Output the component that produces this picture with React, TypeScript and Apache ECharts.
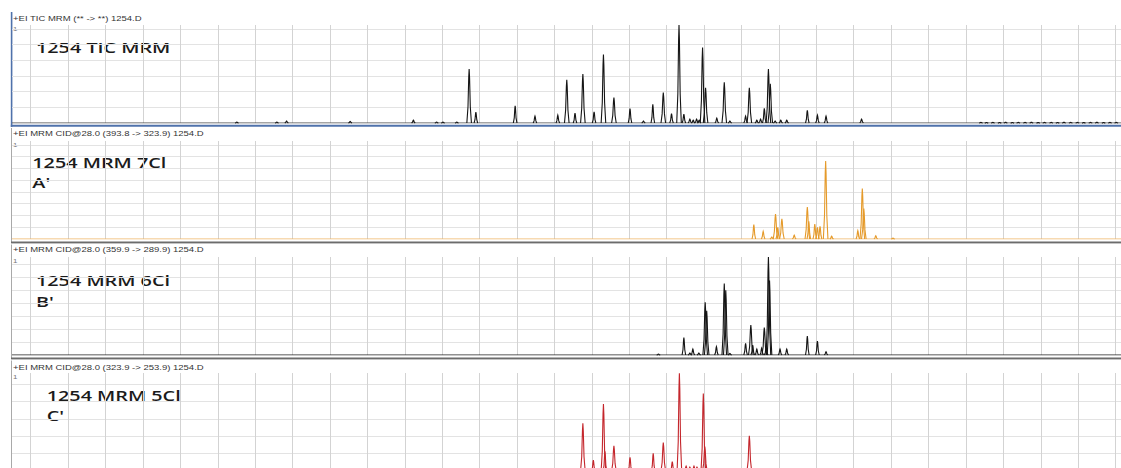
import React, { useEffect, useRef } from "react";
import * as echarts from "echarts";

// Retention-time axis (minutes) shared by every trace
const X_MIN = 4.5;
const X_MAX = 34.145;
const GRID_TIMES = [5, 6, 7, 8, 9, 10, 11, 12, 13, 14, 15, 16, 17, 18, 19, 20, 21, 22, 23, 24, 25, 26, 27, 28, 29, 30, 31, 32, 33, 34];

// Peaks as [retention time, relative abundance %]
const TIC_PEAKS = [
  [10.51, 1], [11.58, 1], [11.84, 2], [13.54, 1.5], [15.23, 3], [15.85, 1], [16.02, 1], [16.39, 1],
  [16.72, 55], [16.9, 11], [17.95, 17.5], [18.48, 7], [19.09, 8], [19.33, 44], [19.55, 10], [19.76, 50],
  [20.06, 11.5], [20.31, 70], [20.59, 26], [21.02, 14.6], [21.38, 2], [21.63, 19], [21.91, 31], [22.13, 9.5],
  [22.33, 100], [22.46, 9], [22.62, 4], [22.71, 3], [22.8, 4], [22.87, 3], [22.96, 77], [23.04, 36],
  [23.34, 5], [23.54, 41.5], [23.69, 2], [24.11, 7], [24.21, 36], [24.41, 3], [24.51, 4], [24.61, 15],
  [24.72, 55], [24.77, 40], [24.9, 2], [25.05, 3], [25.21, 3], [25.76, 13], [26.03, 8], [26.26, 7], [27.21, 4],
  [30.4, 0.7], [30.55, 0.5], [30.72, 0.7], [30.9, 0.5], [31.06, 0.8], [31.24, 0.5], [31.4, 0.7], [31.58, 0.6],
  [31.75, 0.8], [31.93, 0.5], [32.1, 0.7], [32.28, 0.6], [32.45, 0.5], [32.62, 0.8], [32.8, 0.6], [32.98, 0.7],
  [33.15, 0.5], [33.33, 0.6], [33.5, 0.8], [33.68, 0.5], [33.85, 0.7], [34.02, 0.6],
];

const MRM7_PEAKS = [
  [24.33, 14.6], [24.58, 7.8], [24.81, 2], [24.91, 25.5], [24.97, 12], [25.08, 20.7], [25.41, 4],
  [25.76, 32.6], [25.8, 18], [25.96, 15.3], [26.03, 12], [26.1, 13], [26.25, 79.6], [26.41, 3],
  [27.11, 8.5], [27.23, 51.6], [27.27, 31], [27.59, 3.3], [28.05, 1],
];

const MRM6_PEAKS = [
  [21.78, 1], [22.46, 17.7], [22.62, 2], [22.7, 6], [22.86, 2], [23.03, 53.8], [23.07, 45], [23.33, 8.5],
  [23.54, 73], [23.58, 66], [23.69, 1.5], [24.11, 12], [24.25, 30.6], [24.3, 10], [24.41, 6], [24.54, 7],
  [24.61, 28], [24.66, 8], [24.72, 100], [24.75, 76], [25.03, 6], [25.21, 6], [25.76, 19.4], [26.03, 14.3],
  [26.26, 3.4],
];

const MRM5_PEAKS = [
  [19.76, 48.7], [20.04, 11], [20.31, 68.4], [20.35, 20], [20.59, 25.8], [21.02, 14], [21.64, 18],
  [21.91, 29], [22.15, 9.5], [22.34, 99.7], [22.52, 5], [22.62, 4], [22.73, 5], [22.81, 4],
  [22.98, 79], [23.02, 25], [24.21, 36],
];

const PANEL_TITLES = [
  "+EI TIC MRM (** -> **) 1254.D",
  "+EI MRM CID@28.0 (393.8 -> 323.9) 1254.D",
  "+EI MRM CID@28.0 (359.9 -> 289.9) 1254.D",
  "+EI MRM CID@28.0 (323.9 -> 253.9) 1254.D",
];
const PANEL_LABELS = [["1254 TIC MRM"], ["1254 MRM 7Cl", "A'"], ["1254 MRM 6Cl", "B'"], ["1254 MRM 5Cl", "C'"]];
const Y_TICK_LABEL = "1";

const PANEL_PEAKS = [TIC_PEAKS, MRM7_PEAKS, MRM6_PEAKS, MRM5_PEAKS];
const TRACE_COLORS = ["#151515", "#e59a2a", "#151515", "#c4262c"];
const BASELINE_COLORS = ["#4a4a4a", "#eeb565", "#222222", "#c4262c"];
const Y_INTERVALS = [16, 12, 13.3, 17.7];

// layout
const PLOT_TOPS = [25, 141, 257, 373];
const PLOT_H = 98;
const PLOT_LEFT = 12;
const TITLE_Y = [18.2, 133.6, 249.8, 367.6];
const ONE_Y = [28.5, 145, 260.7, 376.7];
const LABEL_X = [36, 32.3, 36, 46.7];
const LABEL_Y = [47, 162, 280.3, 395.5];
const SUBLABEL_Y = [0, 182, 301, 415];
const STRETCH = 1.32;

function peakRenderer(color: string) {
  return (_params: any, api: any) => {
    const rt = api.value(0);
    const h = api.value(1);
    const apex = api.coord([rt, h]);
    const foot = api.coord([rt, 0]);
    const x = apex[0];
    const top = apex[1];
    const b = foot[1];
    const H = b - top;
    const hw = H > 20 ? 2.3 : 1.8;
    return {
      type: "polyline",
      shape: {
        points: [
          [x - hw, b],
          [x - hw * 0.5, b - H * 0.3],
          [x - hw * 0.18, b - H * 0.85],
          [x, top],
          [x + hw * 0.18, b - H * 0.85],
          [x + hw * 0.5, b - H * 0.3],
          [x + hw, b],
        ],
      },
      style: { stroke: color, lineWidth: 1.1, fill: null },
    };
  };
}

export default function App() {
  const ref = useRef<HTMLDivElement>(null);

  useEffect(() => {
    if (!ref.current) return;
    const chart = echarts.init(ref.current, undefined, { renderer: "svg" });

    const grids = PLOT_TOPS.map((top) => ({
      left: PLOT_LEFT,
      right: 0,
      top,
      height: PLOT_H,
      containLabel: false,
      outerBoundsMode: "none",
    }));

    const xAxes = PLOT_TOPS.map((_, i) => ({
      type: "value",
      gridIndex: i,
      min: X_MIN,
      max: X_MAX,
      axisLine: { show: false },
      axisTick: { show: false },
      axisLabel: { show: false },
      splitLine: { show: false },
    }));

    const yAxes = PLOT_TOPS.map((_, i) => ({
      type: "value",
      gridIndex: i,
      min: 0,
      max: 100,
      interval: Y_INTERVALS[i],
      axisLine: { show: false },
      axisTick: { show: false },
      axisLabel: { show: false },
      splitLine: {
        show: true,
        showMinLine: false,
        showMaxLine: false,
        lineStyle: { color: "#e3e3e3", width: 1 },
      },
    }));

    const series: any[] = [];
    PANEL_PEAKS.forEach((peaks, i) => {
      series.push({
        type: "line",
        xAxisIndex: i,
        yAxisIndex: i,
        data: [[X_MIN, 0], [X_MAX, 0]],
        symbol: "none",
        silent: true,
        z: 2,
        lineStyle: { color: BASELINE_COLORS[i], width: 1 },
        markLine: {
          silent: true,
          z: 1,
          symbol: ["none", "none"],
          label: { show: false },
          emphasis: { disabled: true },
          lineStyle: { color: "#d3d3d3", width: 1, type: "solid" },
          data: GRID_TIMES.map((t) => ({ xAxis: t })),
        },
      });
      series.push({
        type: "custom",
        xAxisIndex: i,
        yAxisIndex: i,
        data: peaks,
        encode: { x: 0, y: 1 },
        clip: false,
        silent: true,
        z: 4,
        renderItem: peakRenderer(TRACE_COLORS[i]),
      });
    });

    const graphics: any[] = [];
    // panel frames
    graphics.push({ type: "rect", silent: true, shape: { x: 10.8, y: 12, width: 1.6, height: 115 }, style: { fill: "#4f72ab" } });
    graphics.push({ type: "rect", silent: true, shape: { x: 10.8, y: 124.8, width: 1111, height: 2 }, style: { fill: "#4f72ab" } });
    [[128, 241.5], [244.5, 357.5], [360.5, 470]].forEach(([y0, y1]) => {
      graphics.push({ type: "rect", silent: true, shape: { x: 11, y: y0, width: 1, height: y1 - y0 + 1.5 }, style: { fill: "#a9a9a9" } });
      graphics.push({ type: "rect", silent: true, shape: { x: 11, y: y1, width: 1110, height: 1.5 }, style: { fill: "#6c6c6c" } });
      graphics.push({ type: "rect", silent: true, shape: { x: 11, y: y1 + 1.5, width: 1110, height: 1 }, style: { fill: "#c4c4c4" } });
    });

    PANEL_TITLES.forEach((title, i) => {
      graphics.push({
        type: "text",
        silent: true,
        x: 13,
        y: TITLE_Y[i],
        scaleX: STRETCH,
        style: { text: title, font: '7.2px "Liberation Sans"', fill: "#333333", verticalAlign: "middle" },
      });
      graphics.push({
        type: "text",
        silent: true,
        x: 13,
        y: ONE_Y[i],
        scaleX: STRETCH,
        style: { text: Y_TICK_LABEL, font: '6px "Liberation Sans"', fill: "#777777", verticalAlign: "middle" },
      });
      const lines = PANEL_LABELS[i];
      graphics.push({
        type: "text",
        silent: true,
        x: LABEL_X[i],
        y: LABEL_Y[i],
        scaleX: STRETCH,
        style: { text: lines[0], font: '600 15px "Open Sans"', fill: "#1b1b1b", verticalAlign: "middle" },
      });
      if (lines[1]) {
        graphics.push({
          type: "text",
          silent: true,
          x: LABEL_X[i],
          y: SUBLABEL_Y[i],
          scaleX: STRETCH,
          style: { text: lines[1], font: '600 15px "Open Sans"', fill: "#1b1b1b", verticalAlign: "middle" },
        });
      }
    });

    chart.setOption({
      animation: false,
      backgroundColor: "#ffffff",
      grid: grids,
      xAxis: xAxes,
      yAxis: yAxes,
      series,
      graphic: { elements: graphics },
    });

    return () => chart.dispose();
  }, []);

  return (
    <div
      ref={ref}
      style={{ position: "fixed", left: 0, top: 0, width: 1121, height: 468, background: "#ffffff" }}
    />
  );
}
